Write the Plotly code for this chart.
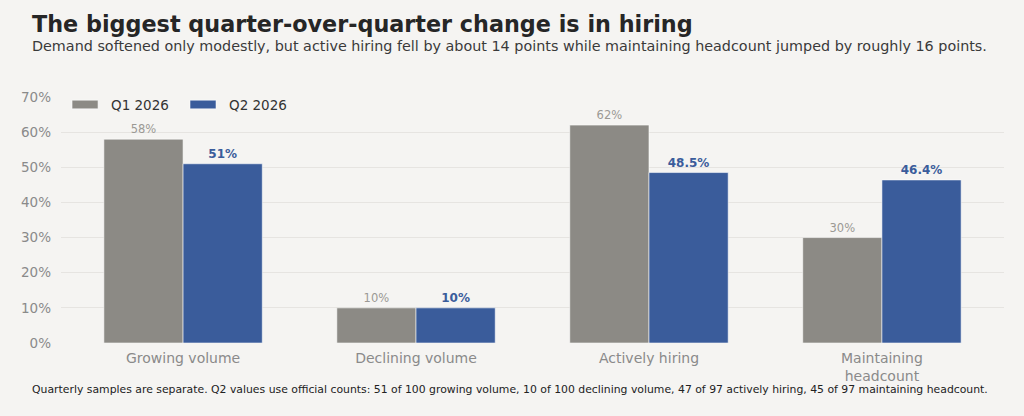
import plotly.graph_objects as go

categories = ["Growing volume", "Declining volume", "Actively hiring", "Maintaining<br>headcount"]
series_names = ["Q1 2026", "Q2 2026"]
q1_values = [58, 10, 62, 30]
q2_values = [51, 10, 48.5, 46.4]
q1_labels = ["58%", "10%", "62%", "30%"]
q2_labels = ["51%", "10%", "48.5%", "46.4%"]
y_ticks = [0, 10, 20, 30, 40, 50, 60, 70]

BG = "#F5F4F2"
GRAY = "#8C8A85"
BLUE = "#3A5C9B"
FONT = "DejaVu Sans"

fig = go.Figure()

fig.add_trace(
    go.Bar(
        name=series_names[0],
        x=categories,
        y=q1_values,
        text=q1_labels,
        textposition="outside",
        outsidetextfont=dict(family=FONT, size=11.5, color="#9B9994"),
        marker=dict(color=GRAY, line=dict(color="rgba(255,255,255,0.55)", width=1)),
        cliponaxis=False,
        hoverinfo="x+y",
    )
)

fig.add_trace(
    go.Bar(
        name=series_names[1],
        x=categories,
        y=q2_values,
        text=["<b>%s</b>" % t for t in q2_labels],
        textposition="outside",
        outsidetextfont=dict(family=FONT, size=12, color=BLUE),
        marker=dict(color=BLUE, line=dict(color="rgba(255,255,255,0.55)", width=1)),
        cliponaxis=False,
        hoverinfo="x+y",
    )
)

# legend drawn by hand so the swatches are wide rectangles like the original
legend_shapes = []
legend_notes = []
for name, color, x0 in [(series_names[0], GRAY, 0.0117), (series_names[1], BLUE, 0.1368)]:
    legend_shapes.append(
        dict(
            type="rect", xref="paper", yref="paper",
            x0=x0, x1=x0 + 0.0276, y0=0.952, y1=0.987,
            fillcolor=color, line=dict(color="rgba(255,255,255,0.55)", width=1),
        )
    )
    legend_notes.append(
        dict(
            text=name, xref="paper", yref="paper",
            x=x0 + 0.0392, y=0.968, xanchor="left", yanchor="middle",
            showarrow=False,
            font=dict(family=FONT, size=13.5, color="#333333"),
        )
    )

fig.update_layout(
    width=1024,
    height=416,
    paper_bgcolor=BG,
    plot_bgcolor=BG,
    margin=dict(l=61, r=20, t=97, b=73),
    barmode="group",
    bargap=0.32,
    bargroupgap=0,
    font=dict(family=FONT, color="#333333"),
    showlegend=False,
    xaxis=dict(
        range=[-0.524, 3.524],
        showgrid=False,
        showline=False,
        zeroline=False,
        tickfont=dict(family=FONT, size=14, color="#8A8A8A"),
        ticks="outside",
        ticklen=2,
        tickcolor="rgba(0,0,0,0)",
    ),
    yaxis=dict(
        range=[0, 70],
        tickvals=y_ticks,
        ticktext=["%d%%" % v for v in y_ticks],
        showgrid=True,
        gridcolor="#E6E4E1",
        gridwidth=1,
        zeroline=False,
        showline=False,
        ticks="",
        ticklabelstandoff=9,
        tickfont=dict(family=FONT, size=13.5, color="#8A8A8A"),
    ),
    shapes=legend_shapes,
    annotations=legend_notes + [
        dict(
            text="<b>The biggest quarter-over-quarter change is in hiring</b>",
            xref="paper", yref="paper",
            x=-0.033, y=1.297,
            xanchor="left", yanchor="middle",
            showarrow=False,
            font=dict(family=FONT, size=22.3, color="#262626"),
        ),
        dict(
            text="Demand softened only modestly, but active hiring fell by about 14 points while maintaining headcount jumped by roughly 16 points.",
            xref="paper", yref="paper",
            x=-0.033, y=1.207,
            xanchor="left", yanchor="middle",
            showarrow=False,
            font=dict(family=FONT, size=14.35, color="#3A3A3A"),
        ),
        dict(
            text="Quarterly samples are separate. Q2 values use official counts: 51 of 100 growing volume, 10 of 100 declining volume, 47 of 97 actively hiring, 45 of 97 maintaining headcount.",
            xref="paper", yref="paper",
            x=-0.033, y=-0.19,
            xanchor="left", yanchor="middle",
            showarrow=False,
            font=dict(family=FONT, size=10.85, color="#222222"),
        ),
    ],
)

fig.write_html(
    "out.html",
    config={"displayModeBar": False},
    post_script="document.body.style.margin='0';document.body.style.background='%s';" % BG,
)
